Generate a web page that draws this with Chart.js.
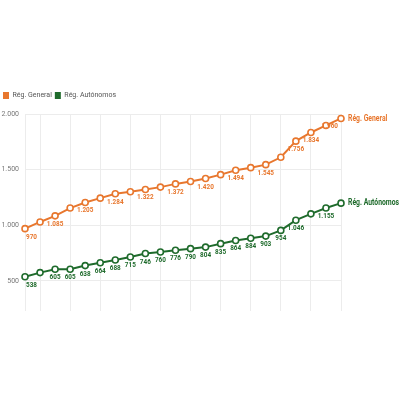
<!DOCTYPE html>
<html>
<head>
<meta charset="utf-8">
<script src="https://cdn.jsdelivr.net/npm/chart.js@4/dist/chart.umd.min.js"></script>
<style>
  html, body { margin: 0; padding: 0; background: #fff; }
  #wrap { width: 400px; height: 400px; }
</style>
</head>
<body>
<div id="wrap"><canvas id="chart" width="400" height="400"></canvas></div>
<script>
// 22 periods, values
const periods = ['2000','2001','2002','2003','2004','2005','2006','2007','2008','2009','2010',
                 '2011','2012','2013','2014','2015','2016','2017','2018','2019','2020','2021'];
const general = [970, 1030, 1085, 1155, 1205, 1244, 1284, 1302, 1322, 1343, 1372,
                 1394, 1420, 1455, 1494, 1518, 1545, 1611, 1756, 1834, 1897, 1960];
const autonomos = [538, 575, 605, 605, 638, 664, 688, 715, 746, 760, 776,
                   790, 804, 835, 864, 884, 903, 954, 1046, 1103, 1155, 1199];
// which points carry a value label
const generalShown = [0, 2, 4, 6, 8, 10, 12, 14, 16, 18, 19, 21];
const autonomosShown = [0, 2, 3, 4, 5, 6, 7, 8, 9, 10, 11, 12, 13, 14, 15, 16, 17, 18, 20];
const yTicks = [500, 1000, 1500, 2000];

const ORANGE = '#e8772e';
const GREEN = '#1f6b2c';
const FONT = 'Roboto, sans-serif';
const SQUEEZE = 0.8; // the original uses a condensed face

const fmtNum = v => String(v).replace(/\B(?=(\d{3})+(?!\d))/g, '.');

// condensed text helper
function narrowText(ctx, txt, x, y, sx) {
  ctx.save();
  ctx.translate(x, y);
  ctx.scale(sx, 1);
  ctx.fillText(txt, 0, 0);
  ctx.restore();
}

// value labels under the points + series name at the end of each line
const pointLabels = {
  id: 'pointLabels',
  beforeInit(chart) {
    // fixed legend block height so the plot starts where the original does
    const fit = chart.legend.fit;
    chart.legend.fit = function () { fit.call(this); this.height = 25; };
  },
  afterDatasetsDraw(chart) {
    const { ctx, chartArea } = chart;
    const shown = [generalShown, autonomosShown];
    ctx.save();
    chart.data.datasets.forEach((ds, di) => {
      const meta = chart.getDatasetMeta(di);
      ctx.fillStyle = ds.borderColor;
      ctx.textBaseline = 'middle';
      ctx.textAlign = 'left';
      ctx.font = 'bold 8px ' + FONT;
      shown[di].forEach(i => {
        const p = meta.data[i];
        const txt = fmtNum(ds.data[i]);
        const w = ctx.measureText(txt).width * SQUEEZE;
        let x = p.x - w / 2;
        x = Math.max(chartArea.left + 1, Math.min(x, chartArea.right - 3 - w));
        narrowText(ctx, txt, x, p.y + 8, SQUEEZE);
      });
      const last = meta.data[meta.data.length - 1];
      ctx.font = 'bold 9px ' + FONT;
      narrowText(ctx, ds.label, last.x + 7, last.y, 0.76);
    });
    ctx.restore();
  }
};

new Chart(document.getElementById('chart'), {
  type: 'line',
  data: {
    labels: periods,
    datasets: [
      { label: 'Rég. General', data: general, borderColor: ORANGE, backgroundColor: ORANGE },
      { label: 'Rég. Autónomos', data: autonomos, borderColor: GREEN, backgroundColor: GREEN },
    ].map(d => Object.assign(d, {
      borderWidth: 2,
      pointRadius: 3,
      pointBorderWidth: 1.6,
      pointBackgroundColor: '#fff',
      tension: 0,
    })),
  },
  options: {
    responsive: false,
    animation: false,
    layout: { padding: { top: 89, left: 0, right: 59, bottom: 89 } },
    plugins: {
      legend: {
        align: 'start',
        labels: {
          boxWidth: 6, boxHeight: 7, padding: 3,
          color: '#555',
          font: { family: FONT, size: 7 },
          generateLabels(chart) {
            return chart.data.datasets.map((d, i) => ({
              text: d.label, fillStyle: d.borderColor, strokeStyle: d.borderColor,
              lineWidth: 0, datasetIndex: i, fontColor: '#555',
            }));
          },
        },
      },
      tooltip: { enabled: false },
    },
    scales: {
      x: {
        offset: false,
        ticks: { display: false },
        border: { display: false },
        grid: {
          drawTicks: false,
          color: c => (c.index === 0 || c.index % 2 === 1) ? '#ececec' : 'rgba(0,0,0,0)',
        },
      },
      y: {
        min: 230, max: 2000,
        afterBuildTicks: axis => { axis.ticks = yTicks.map(v => ({ value: v })); },
        afterFit: axis => { axis.width = 25; },
        border: { display: false },
        grid: { color: '#ececec', drawTicks: false },
        ticks: {
          padding: 6,
          color: '#777',
          font: { family: FONT, size: 7 },
          callback: v => fmtNum(v),
        },
      },
    },
  },
  plugins: [pointLabels],
});
</script>
</body>
</html>
